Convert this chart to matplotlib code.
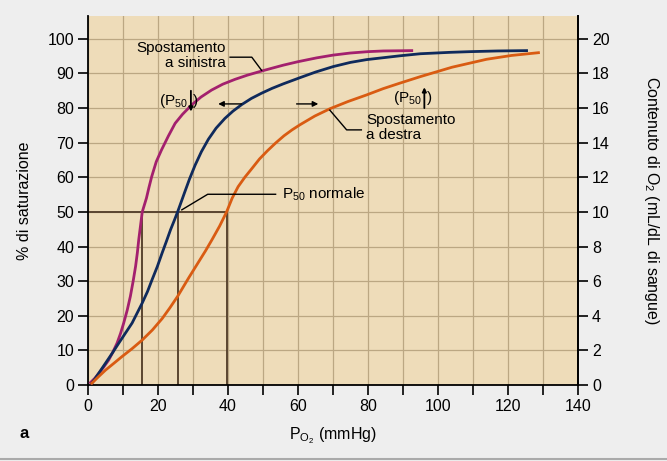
import matplotlib
matplotlib.use("Agg")
import matplotlib.pyplot as plt
from matplotlib.ticker import MultipleLocator

# ---- data ----
left_x = [0.7, 2.0, 3.1, 4.5, 5.9, 7.1, 8.3, 9.3, 10.2, 11.2, 12.1, 12.9, 13.6, 14.1, 14.5, 15.0, 15.5,
          16.1, 16.7, 17.4, 18.2, 19.5, 21.0, 23.0, 24.9, 27.0, 29.6, 32.3, 35.3, 38.5, 42.0, 45.5,
          49.6, 52.5, 55.8, 60.0, 65.3, 70.0, 74.9, 80.0, 84.4, 92.5]
left_y = [0.7, 2.0, 3.4, 5.2, 7.2, 9.5, 12.1, 14.9, 17.9, 21.6, 25.6, 30.0, 34.3, 38.2, 42.0, 46.0, 50.0,
          52.0, 54.0, 57.0, 60.2, 64.5, 67.9, 72.0, 75.6, 78.2, 80.9, 83.2, 85.2, 86.9, 88.3, 89.5,
          90.7, 91.5, 92.4, 93.4, 94.5, 95.3, 95.9, 96.3, 96.5, 96.6]

norm_x = [1.1, 3.0, 5.0, 7.0, 8.8, 10.7, 12.6, 14.0, 15.5, 17.0, 18.3, 19.8, 21.2, 22.4, 23.6, 24.6, 25.6,
          26.6, 27.7, 29.0, 30.6, 32.4, 34.4, 36.6, 39.1, 41.4, 43.9, 46.7, 49.6, 52.6, 55.8, 60.6,
          65.0, 70.1, 75.0, 79.6, 89.1, 95.0, 103.4, 109.1, 117.0, 125.3]
norm_y = [0.5, 3.3, 6.3, 9.3, 12.1, 15.0, 17.9, 20.7, 23.7, 27.0, 30.4, 34.2, 38.2, 41.5, 44.9, 47.4, 50.0,
          52.8, 55.9, 59.5, 63.5, 67.4, 71.0, 74.2, 77.0, 79.1, 81.0, 82.8, 84.3, 85.7, 87.0, 88.8,
          90.4, 92.0, 93.2, 94.0, 95.1, 95.7, 96.1, 96.3, 96.5, 96.6]

right_x = [1.1, 3.0, 5.0, 7.3, 9.7, 12.6, 15.5, 18.4, 21.2, 23.4, 25.6, 27.2, 28.8, 31.2, 33.6, 35.5, 37.6,
           39.6, 41.2, 42.9, 44.8, 46.8, 49.0, 51.3, 53.6, 56.0, 58.3, 60.6, 64.8, 69.1, 74.3, 79.6,
           84.3, 89.1, 95.0, 104.0, 113.9, 121.0, 128.7]
right_y = [0.5, 2.4, 4.3, 6.2, 8.2, 10.5, 13.0, 15.9, 19.2, 22.3, 25.6, 28.3, 31.0, 34.9, 38.8, 42.1, 45.9,
           50.0, 54.0, 57.3, 60.0, 62.5, 65.3, 67.7, 69.9, 72.0, 73.7, 75.2, 77.7, 79.8, 81.9, 83.8,
           85.6, 87.2, 89.1, 91.8, 94.1, 95.2, 96.0]

p50_values = [15.5, 25.6, 39.6]
x_ticks = [0, 20, 40, 60, 80, 100, 120, 140]
y_ticks = [0, 10, 20, 30, 40, 50, 60, 70, 80, 90, 100]
y2_ticks = [0, 2, 4, 6, 8, 10, 12, 14, 16, 18, 20]

# ---- style ----
FONT = ['Liberation Sans', 'DejaVu Sans']
plt.rcParams['font.family'] = FONT
plt.rcParams['mathtext.fontset'] = 'custom'
plt.rcParams['mathtext.rm'] = 'Liberation Sans'
plt.rcParams['mathtext.it'] = 'Liberation Sans'
plt.rcParams['mathtext.bf'] = 'Liberation Sans:bold'

BG = '#EEEEEE'
FACE = '#EEDCB9'
GRID = '#BBA783'
MAG = '#A3206E'
NAVY = '#0F2A5C'
ORA = '#D95B12'
P50C = '#5A4530'

fig = plt.figure(figsize=(6.67, 4.61), dpi=100, facecolor=BG)
ax = fig.add_axes([88/667, 76/461, 490/667, 369/461])
ax.set_facecolor(FACE)
ax.set_xlim(0, 140)
ax.set_ylim(0, 106.6)

ax.xaxis.set_minor_locator(MultipleLocator(10))
ax.set_xticks(x_ticks)
ax.set_yticks(y_ticks)
ax.grid(True, which='both', color=GRID, lw=0.9)
ax.set_axisbelow(True)

for s in ax.spines.values():
    s.set_linewidth(1.3)
    s.set_color('black')
ax.spines['top'].set_visible(False)

ax.tick_params(which='both', direction='out', length=7, width=1.2, labelsize=11.5, pad=3)
ax.tick_params(axis='y', which='minor', length=0)

# P50 reference lines
ax.plot([0, p50_values[2]], [50, 50], color=P50C, lw=1.4, zorder=2)
for v in p50_values:
    ax.plot([v, v], [0, 50], color=P50C, lw=1.4, zorder=2)

ax.plot(left_x, left_y, color=MAG, lw=2.0, zorder=3, solid_joinstyle='round')
ax.plot(norm_x, norm_y, color=NAVY, lw=2.0, zorder=3, solid_joinstyle='round')
ax.plot(right_x, right_y, color=ORA, lw=2.0, zorder=3, solid_joinstyle='round')

# right axis
ax2 = ax.twinx()
ax2.set_ylim(0, 106.6 / 5)
ax2.set_yticks(y2_ticks)
for s in ax2.spines.values():
    s.set_visible(False)
ax2.spines['right'].set_visible(True)
ax2.spines['right'].set_linewidth(1.3)
ax2.tick_params(direction='out', length=7, width=1.2, labelsize=11.5, pad=3)

# labels
fs = 11.5
ax.set_ylabel('% di saturazione', fontsize=fs, labelpad=11)
ax2.set_ylabel('Contenuto di O$_2$ (mL/dL di sangue)', fontsize=fs, rotation=270, labelpad=37)
ax.set_xlabel('P$_{\\mathrm{O_2}}$ (mmHg)', fontsize=fs, labelpad=8)
fig.text(20/667, 1 - 433/461, 'a', fontsize=12, fontweight='bold', va='center', ha='left')

# annotations
ta = 11
tk = dict(fontsize=ta, color='black', zorder=5)
arr_small = dict(arrowstyle='-|>', color='black', lw=1.3, mutation_scale=6, shrinkA=0, shrinkB=0)
arr_h = dict(arrowstyle='-|>', color='black', lw=1.0, mutation_scale=8, shrinkA=0, shrinkB=0)

ax.text(39.3, 97.3, 'Spostamento', ha='right', va='center', **tk)
ax.text(39.3, 93.0, 'a sinistra', ha='right', va='center', **tk)
ax.plot([40.6, 46.8, 49.6], [94.7, 94.7, 90.9], color='black', lw=1.0, zorder=5)

# (P50 down)
ax.text(28.6, 81.9, '(P$_{50}$', ha='right', va='center', **tk)
ax.annotate('', xy=(29.4, 79.0), xytext=(29.4, 85.0), arrowprops=arr_small, zorder=5)
ax.text(30.1, 81.9, ')', ha='left', va='center', **tk)
ax.annotate('', xy=(37.2, 81.2), xytext=(43.9, 81.2), arrowprops=arr_h, zorder=5)
ax.annotate('', xy=(65.8, 81.2), xytext=(59.6, 81.2), arrowprops=arr_h, zorder=5)

# (P50 up)
ax.text(95.3, 82.9, '(P$_{50}$', ha='right', va='center', **tk)
ax.annotate('', xy=(96.1, 86.0), xytext=(96.1, 80.0), arrowprops=arr_small, zorder=5)
ax.text(96.8, 82.9, ')', ha='left', va='center', **tk)

ax.text(79.4, 76.6, 'Spostamento', ha='left', va='center', **tk)
ax.text(79.4, 72.2, 'a destra', ha='left', va='center', **tk)
ax.plot([69.1, 73.9, 78.1], [79.4, 73.7, 73.7], color='black', lw=1.0, zorder=5)

ax.text(55.3, 55.2, 'P$_{50}$ normale', ha='left', va='center', **tk)
ax.plot([53.6, 34.2, 26.8], [55.1, 55.1, 50.6], color='black', lw=1.0, zorder=5)

# bottom border line
fig.add_artist(plt.Line2D([0, 1], [2.5/461, 2.5/461], color='#AAAAAA', lw=1.5, transform=fig.transFigure))

fig.savefig('out.png', dpi=100, facecolor=BG)
